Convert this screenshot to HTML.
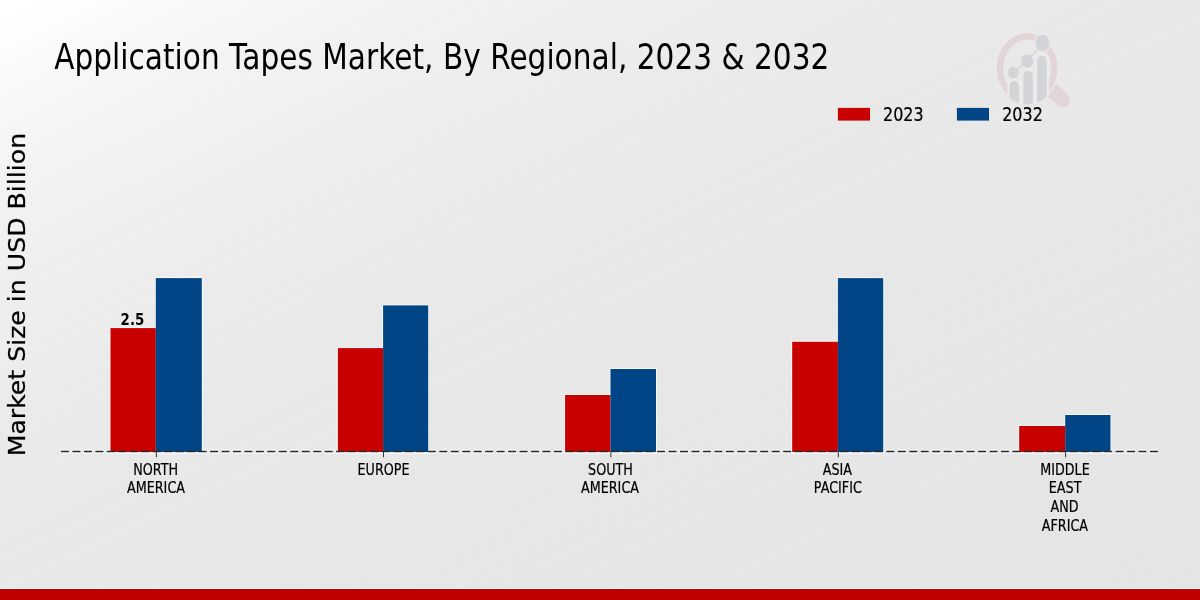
<!DOCTYPE html>
<html lang="en">
<head>
<meta charset="utf-8">
<title>Application Tapes Market, By Regional, 2023 &amp; 2032</title>
<style>
  html, body { margin: 0; padding: 0; width: 1200px; height: 600px; overflow: hidden; background: #e8e8e8; }
  svg { display: block; position: absolute; left: 0; top: 0; }
  text { font-family: "DejaVu Sans", "Liberation Sans", sans-serif; fill: #000; }
  .tick text { font-size: 15.3px; text-anchor: middle; fill: #000; stroke: #000; stroke-width: 0.2px; vector-effect: non-scaling-stroke; }
  .legend text { font-size: 19.9px; stroke: #000; stroke-width: 0.2px; vector-effect: non-scaling-stroke; }
</style>
</head>
<body>
<svg width="1200" height="600" viewBox="0 0 1200 600">
  <defs>
    <linearGradient id="bg" gradientUnits="userSpaceOnUse" x1="0" y1="0" x2="480.0" y2="960.0">
      <stop offset="0.0000" stop-color="#ffffff"/>
      <stop offset="0.0250" stop-color="#fefefe"/>
      <stop offset="0.0933" stop-color="#f7f7f7"/>
      <stop offset="0.1667" stop-color="#f2f2f2"/>
      <stop offset="0.2500" stop-color="#eeeeee"/>
      <stop offset="0.3667" stop-color="#eaeaea"/>
      <stop offset="0.4833" stop-color="#e8e8e8"/>
      <stop offset="0.7250" stop-color="#e6e6e6"/>
      <stop offset="1.0000" stop-color="#e4e4e4"/>
    </linearGradient>
    <pattern id="streaks" patternUnits="userSpaceOnUse" width="40" height="131" patternTransform="rotate(-25.5)">
      <rect x="0" y="6" width="40" height="4" fill="#fff" fill-opacity="0.077"/>
      <rect x="0" y="27" width="40" height="2.5" fill="#fff" fill-opacity="0.056"/>
      <rect x="0" y="45" width="40" height="6" fill="#fff" fill-opacity="0.049"/>
      <rect x="0" y="70" width="40" height="3" fill="#fff" fill-opacity="0.084"/>
      <rect x="0" y="88" width="40" height="5" fill="#fff" fill-opacity="0.042"/>
      <rect x="0" y="112" width="40" height="3" fill="#fff" fill-opacity="0.070"/>
    </pattern>
    <filter id="soft" x="0" y="0" width="100%" height="100%" filterUnits="objectBoundingBox"><feGaussianBlur stdDeviation="1.3"/></filter>
    <clipPath id="lens"><ellipse cx="1027.1" cy="68.4" rx="31.3" ry="36.2"/></clipPath>
  </defs>
  <rect id="background" x="0" y="0" width="1200" height="600" fill="url(#bg)"/>
  <rect id="bg-streaks" x="-10" y="-10" width="1220" height="620" fill="url(#streaks)" filter="url(#soft)"/>

  <!-- logo watermark -->
  <g id="logo">
    <line x1="1050" y1="88.5" x2="1062.9" y2="100.1" stroke="#e3d4d7" stroke-width="14.6" stroke-linecap="round"/>
    <ellipse cx="1027.1" cy="68.1" rx="28.6" ry="33.2" fill="none" stroke="#ebebeb" stroke-width="6.6"/>
    <ellipse cx="1027.1" cy="68.1" rx="27.2" ry="31.8" fill="none" stroke="#e3d4d7" stroke-width="6.6"/>
    <g clip-path="url(#lens)" fill="#d3d4d7" stroke="#ebebeb" stroke-width="4.6" paint-order="stroke">
      <rect x="1009.5" y="80.8" width="9.5" height="40" rx="4.7" ry="5"/>
      <rect x="1023.3" y="70.8" width="9.5" height="50" rx="4.7" ry="5"/>
      <rect x="1037.2" y="55.8" width="9.5" height="65" rx="4.7" ry="5"/>
    </g>
    <g stroke="#d3d4d7" stroke-width="1.3" fill="none">
      <line x1="1013.3" y1="72.7" x2="1027.2" y2="61"/>
      <line x1="1027.2" y1="61" x2="1042.5" y2="43"/>
    </g>
    <g fill="#d3d4d7">
      <ellipse cx="1013.3" cy="72.7" rx="5.3" ry="6"/>
      <ellipse cx="1027.2" cy="61" rx="6" ry="6.8"/>
      <ellipse cx="1042.5" cy="43" rx="7.8" ry="9" stroke="#ebebeb" stroke-width="1.2"/>
    </g>
  </g>

  <!-- title -->
  <text id="title" transform="translate(54.2 68.9) scale(0.8322 1)" font-size="35.6">Application Tapes Market, By Regional, 2023 &amp; 2032</text>

  <!-- y axis label -->
  <text id="ylabel" transform="translate(25.1 294.6) rotate(-90) scale(1 0.895)" font-size="25.17" text-anchor="middle" stroke="#000" stroke-width="0.3">Market Size in USD Billion</text>

  <!-- legend -->
  <g class="legend">
    <rect x="837.9" y="107.9" width="32.1" height="12.7" fill="#c80000"/>
    <text transform="translate(883.0 121.2) scale(0.803 1)">2023</text>
    <rect x="956.9" y="107.9" width="32.1" height="12.7" fill="#004687"/>
    <text transform="translate(1002.2 121.2) scale(0.803 1)">2032</text>
  </g>

  <!-- bars -->
  <line id="axis-halo" x1="60.4" y1="451.6" x2="1160" y2="451.6" stroke="#ffffff" stroke-opacity="0.5" stroke-width="4.8" stroke-dasharray="9.2 2.263"/>
  <g id="bar-halo" fill="none" stroke="#ffffff" stroke-opacity="0.65" stroke-width="1">
    <path d="M110.0 452.0 V327.6 H155.3 V277.6 H202.3 V452.0"/>
    <path d="M337.4 452.0 V347.6 H382.6 V304.9 H428.7 V452.0"/>
    <path d="M564.6 452.0 V394.5 H610.0 V368.5 H656.5 V452.0"/>
    <path d="M791.7 452.0 V341.3 H837.4 V277.6 H883.7 V452.0"/>
    <path d="M1018.7 452.0 V425.5 H1064.7 V414.5 H1110.95 V452.0"/>
  </g>
  <g id="bar-halo-bottom" stroke="#ffffff" stroke-opacity="0.7" stroke-width="1.4">
    <line x1="109.5" y1="452.8" x2="202.6" y2="452.8"/>
    <line x1="336.9" y1="452.8" x2="429.4" y2="452.8"/>
    <line x1="564.1" y1="452.8" x2="657.0" y2="452.8"/>
    <line x1="791.2" y1="452.8" x2="884.2" y2="452.8"/>
    <line x1="1018.2" y1="452.8" x2="1111.6" y2="452.8"/>
  </g>
  <g id="bars">
    <rect x="110.5" y="328.1" width="45.3" height="123.9" fill="#c80000"/>
    <rect x="155.8" y="278.1" width="46.0" height="173.9" fill="#004687"/>
    <rect x="337.9" y="348.1" width="45.2" height="103.9" fill="#c80000"/>
    <rect x="383.1" y="305.4" width="45.1" height="146.6" fill="#004687"/>
    <rect x="565.1" y="395.0" width="45.4" height="57.0" fill="#c80000"/>
    <rect x="610.5" y="369.0" width="45.5" height="83.0" fill="#004687"/>
    <rect x="792.2" y="341.8" width="45.7" height="110.2" fill="#c80000"/>
    <rect x="837.9" y="278.1" width="45.3" height="173.9" fill="#004687"/>
    <rect x="1019.2" y="426.0" width="46.0" height="26.0" fill="#c80000"/>
    <rect x="1065.2" y="415.0" width="45.25" height="37.0" fill="#004687"/>
  </g>

  <!-- value label -->
  <text id="val" transform="translate(120.6 325.2) scale(0.845 1)" font-size="15.8" font-weight="bold">2.5</text>

  <!-- axis -->
  <line id="axis" x1="61" y1="451.55" x2="1160" y2="451.55" stroke="#2a2a2a" stroke-width="1.4" stroke-dasharray="8 3.463"/>
  <g id="ticks" stroke="#333" stroke-width="1">
    <line x1="156.4" y1="452" x2="156.4" y2="457.3"/>
    <line x1="383.5" y1="452" x2="383.5" y2="457.3"/>
    <line x1="610.9" y1="452" x2="610.9" y2="457.3"/>
    <line x1="838.3" y1="452" x2="838.3" y2="457.3"/>
    <line x1="1065.6" y1="452" x2="1065.6" y2="457.3"/>
  </g>

  <!-- tick labels -->
  <g class="tick">
    <text transform="translate(155.7 474.7) scale(0.833 1)">NORTH</text>
    <text transform="translate(156.0 493.0) scale(0.833 1)">AMERICA</text>
    <text transform="translate(383.5 474.7) scale(0.833 1)">EUROPE</text>
    <text transform="translate(610.5 474.7) scale(0.833 1)">SOUTH</text>
    <text transform="translate(610.0 493.0) scale(0.833 1)">AMERICA</text>
    <text transform="translate(837.4 474.7) scale(0.833 1)">ASIA</text>
    <text transform="translate(837.8 493.0) scale(0.833 1)">PACIFIC</text>
    <text transform="translate(1065.0 474.7) scale(0.833 1)">MIDDLE</text>
    <text transform="translate(1065.1 492.9) scale(0.833 1)">EAST</text>
    <text transform="translate(1064.5 511.8) scale(0.833 1)">AND</text>
    <text transform="translate(1064.9 530.9) scale(0.833 1)">AFRICA</text>
  </g>

  <!-- footer bar -->
  <rect x="0" y="588" width="1200" height="1" fill="#f7fbfb"/>
  <rect id="footer" x="0" y="589" width="1200" height="11" fill="#c00000"/>
</svg>
</body>
</html>
